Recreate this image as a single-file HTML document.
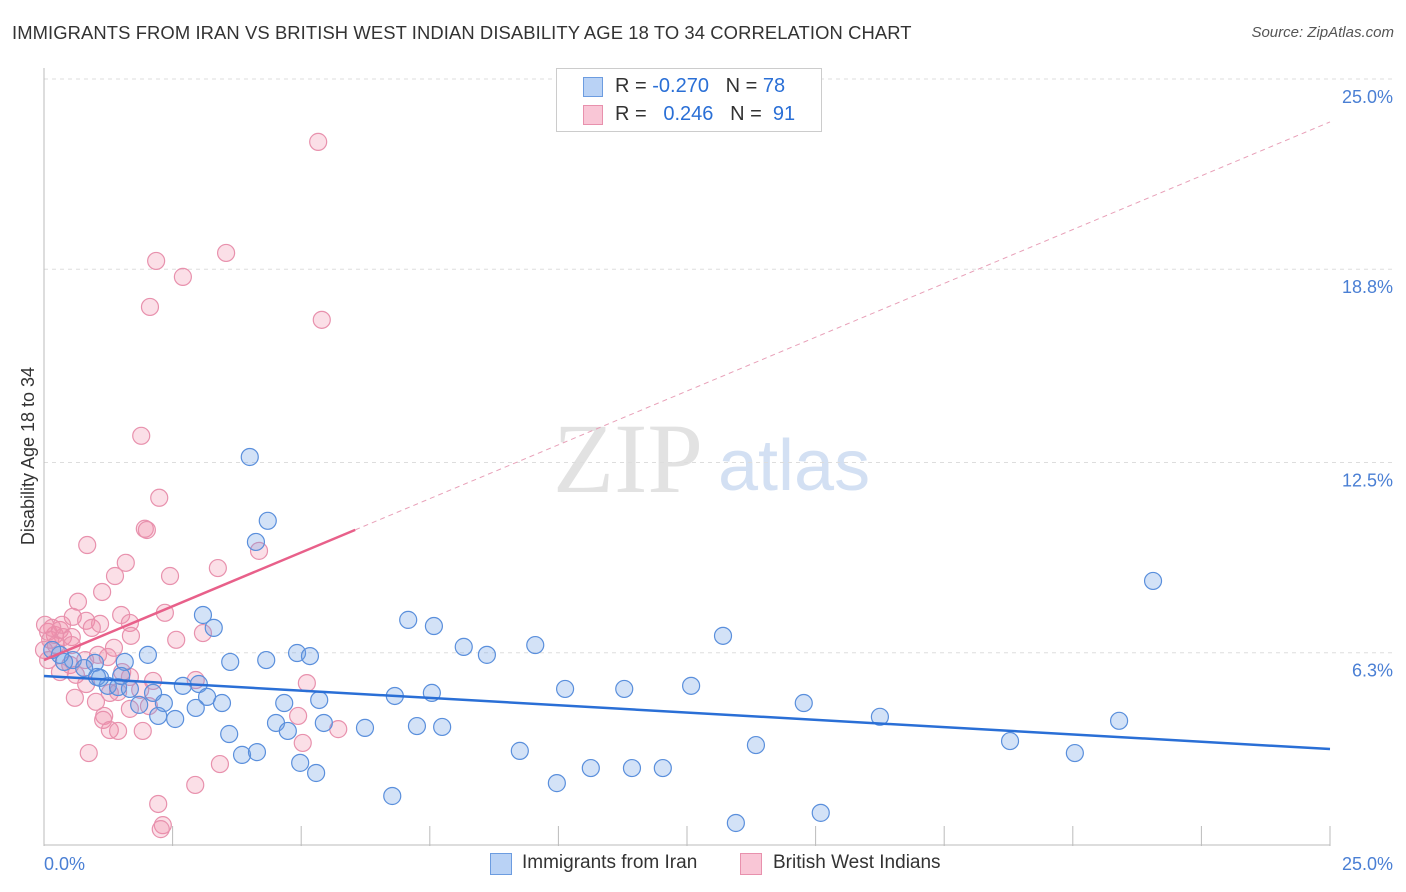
<!DOCTYPE html>
<html><head><meta charset="utf-8">
<style>
body{margin:0;background:#fff;font-family:"Liberation Sans",sans-serif;}
#wrap{position:relative;width:1406px;height:892px;overflow:hidden;}
.t{position:absolute;white-space:nowrap;}
</style></head><body>
<div id="wrap">
<div class="t" style="left:12px;top:22px;font-size:18.4px;color:#333;letter-spacing:0.1px;">IMMIGRANTS FROM IRAN VS BRITISH WEST INDIAN DISABILITY AGE 18 TO 34 CORRELATION CHART</div>
<div class="t" style="right:12px;top:24px;font-size:15px;color:#555;font-style:italic;">Source: ZipAtlas.com</div>
<svg id="svg" width="1406" height="892" style="position:absolute;left:0;top:0"></svg>
</div>
<script>
const yTicks=[25.0,18.8,12.5,6.3];
const yTickLabels=["25.0%","18.8%","12.5%","6.3%"];
const xTickLabels=["0.0%","25.0%"];
const blueX=[4.00,4.35,4.12,21.56,7.08,7.58,3.09,3.30,13.20,8.16,8.61,9.55,2.02,3.62,4.32,4.92,5.17,1.57,0.99,0.56,0.31,10.13,11.28,12.58,6.82,7.54,2.70,3.01,2.12,3.17,3.46,4.67,5.35,1.24,1.44,1.67,1.03,1.50,14.77,16.25,20.90,1.85,2.33,2.22,2.55,2.95,4.51,4.74,5.44,6.24,7.25,7.74,3.60,18.78,13.84,20.04,9.25,3.85,4.14,4.98,5.29,9.97,10.63,11.43,12.03,6.77,13.45,15.10,0.16,0.39,0.78,1.09];
const blueY=[12.68,10.60,9.91,8.64,7.37,7.17,7.53,7.11,6.85,6.49,6.23,6.55,6.23,6.00,6.06,6.29,6.19,6.00,5.97,6.06,6.23,5.12,5.12,5.22,4.89,4.99,5.22,5.28,4.99,4.86,4.66,4.66,4.76,5.22,5.18,5.12,5.51,5.54,4.66,4.21,4.08,4.60,4.66,4.24,4.14,4.50,4.01,3.75,4.01,3.85,3.91,3.88,3.65,3.42,3.29,3.03,3.10,2.97,3.06,2.71,2.38,2.05,2.54,2.54,2.54,1.63,0.75,1.08,6.39,6.00,5.80,5.48];
const pinkX=[5.33,3.54,2.18,2.70,2.06,5.40,1.89,2.24,1.96,2.00,0.84,4.18,1.59,3.38,2.45,1.38,1.13,0.66,2.35,1.50,0.56,0.82,1.09,1.67,0.93,0.31,0.08,0.21,0.37,0.54,0.12,1.69,3.09,2.57,1.36,1.24,1.05,0.80,0.51,0.31,0.62,1.52,1.67,2.12,2.95,5.11,0.82,1.28,1.44,1.87,0.60,1.01,2.04,1.67,4.94,1.17,1.15,5.72,1.28,1.44,1.92,5.03,0.87,3.42,2.94,2.22,2.31,2.27,0.54,0.0,0.08,0.23,0.35,0.16,0.02];
const pinkY=[22.95,19.33,19.07,18.55,17.57,17.15,13.37,11.35,10.34,10.30,9.81,9.62,9.23,9.06,8.80,8.80,8.28,7.96,7.60,7.53,7.47,7.34,7.24,7.27,7.11,7.04,6.98,6.88,6.81,6.81,6.72,6.85,6.94,6.72,6.46,6.16,6.23,6.06,5.90,5.67,5.58,5.67,5.51,5.38,5.41,5.31,5.28,4.99,5.02,5.09,4.83,4.70,4.56,4.47,4.24,4.24,4.11,3.81,3.78,3.75,3.75,3.36,3.03,2.67,1.99,1.37,0.68,0.55,6.55,6.39,6.06,6.55,7.21,7.11,7.21];
const blueTrend=[5.54,3.16];
const pinkTrend=[6.06,23.6];
const pinkSolidEnd=6.05;

const NS="http://www.w3.org/2000/svg";
const svg=document.getElementById('svg');
const X0=44,X1=1330,YB=846,YT=79;
const xs=v=>X0+(v/25)*(X1-X0);
const ys=v=>YB-(v/25)*(YB-YT);
function mk(tag,attrs,parent){const e=document.createElementNS(NS,tag);for(const k in attrs)e.setAttribute(k,attrs[k]);(parent||svg).appendChild(e);return e;}

let wm=mk('text',{x:553,y:492,'font-size':100,fill:'#e2e2e2','font-family':'Liberation Serif, serif'});


wm.textContent='ZIP';
let wm2=mk('text',{x:718,y:490,'font-size':72,fill:'#d3e0f3','font-family':'Liberation Sans, sans-serif'});


wm2.textContent='atlas';

yTicks.forEach((t,i)=>{
  let g=mk('line',{x1:X0,x2:1395,y1:ys(t),y2:ys(t),stroke:'#ddd','stroke-dasharray':'4,4'});
  
  
  let l=mk('text',{x:1393,y:ys(t)+24,'text-anchor':'end','font-size':18,fill:'#4a7fd4'});
  
  
  l.textContent=yTickLabels[i];
});
let ax=mk('line',{x1:X0,x2:X0,y1:68,y2:YB,stroke:'#bbb'});


let bx=mk('line',{x1:X0,x2:X1,y1:YB-1,y2:YB-1,stroke:'#bbb'});


for(let i=0;i<=10;i++){
  let tk=mk('line',{x1:xs(i*2.5),x2:xs(i*2.5),y1:YB-20,y2:YB,stroke:'#bbb'});
  
  
}
[[0,'start',44],[1,'end',1393]].forEach(([i,a,x])=>{
  let l=mk('text',{x:x,y:870,'text-anchor':a,'font-size':18,fill:'#4a7fd4'});
  
  
  l.textContent=xTickLabels[i];
});
let yt=mk('text',{x:0,y:0,'font-size':18,fill:'#333','text-anchor':'middle',transform:'translate(34,456) rotate(-90)'});


yt.textContent='Disability Age 18 to 34';

function pts(X,Y,fill,stroke,name){
  X.forEach((x,i)=>{
    let c=mk('circle',{cx:xs(x),cy:ys(Y[i]),r:8.5,fill:fill,stroke:stroke,'stroke-width':1.2});
    
    
  });
}
pts(pinkX,pinkY,'rgba(240,140,170,0.28)','#e891ad','point-british-west-indian');
pts(blueX,blueY,'rgba(110,160,230,0.30)','#5a8fdc','point-iran');

let bt=mk('line',{x1:xs(0),y1:ys(blueTrend[0]),x2:xs(25),y2:ys(blueTrend[1]),stroke:'#2a6fd6','stroke-width':2.5});


const pAt=x=>pinkTrend[0]+(pinkTrend[1]-pinkTrend[0])*x/25;
let pd=mk('line',{x1:xs(pinkSolidEnd),y1:ys(pAt(pinkSolidEnd)),x2:xs(25),y2:ys(pinkTrend[1]),stroke:'#e8a0b8','stroke-width':1,'stroke-dasharray':'5,4'});


let pt=mk('line',{x1:xs(0),y1:ys(pinkTrend[0]),x2:xs(pinkSolidEnd),y2:ys(pAt(pinkSolidEnd)),stroke:'#e8608a','stroke-width':2.5});


</script>
<div style="position:absolute;left:556px;top:68px;width:264px;height:62px;border:1px solid #ccc;background:#fff;font-size:20px;color:#333;">
 <div style="position:absolute;left:26px;top:8px;width:18px;height:18px;background:#b9d2f5;border:1px solid #6c9ce0;"></div>
 <div class="t" style="left:58px;top:6px;">R = <span style="color:#2a6fd6">-0.270</span>&nbsp;&nbsp;&nbsp;N = <span style="color:#2a6fd6">78</span></div>
 <div style="position:absolute;left:26px;top:36px;width:18px;height:18px;background:#f9c6d6;border:1px solid #e891ad;"></div>
 <div class="t" style="left:58px;top:34px;">R = &nbsp;&nbsp;<span style="color:#2a6fd6">0.246</span>&nbsp;&nbsp;&nbsp;N = &nbsp;<span style="color:#2a6fd6">91</span></div>
</div>
<div style="position:absolute;left:490px;top:852px;font-size:19px;color:#333;">
 <div style="position:absolute;left:0;top:1px;width:20px;height:20px;background:#b9d2f5;border:1px solid #6c9ce0;"></div>
 <div class="t" style="left:32px;top:0;">Immigrants from Iran</div>
 <div style="position:absolute;left:250px;top:1px;width:20px;height:20px;background:#f9c6d6;border:1px solid #e891ad;"></div>
 <div class="t" style="left:283px;top:0;">British West Indians</div>
</div>
</body></html>
